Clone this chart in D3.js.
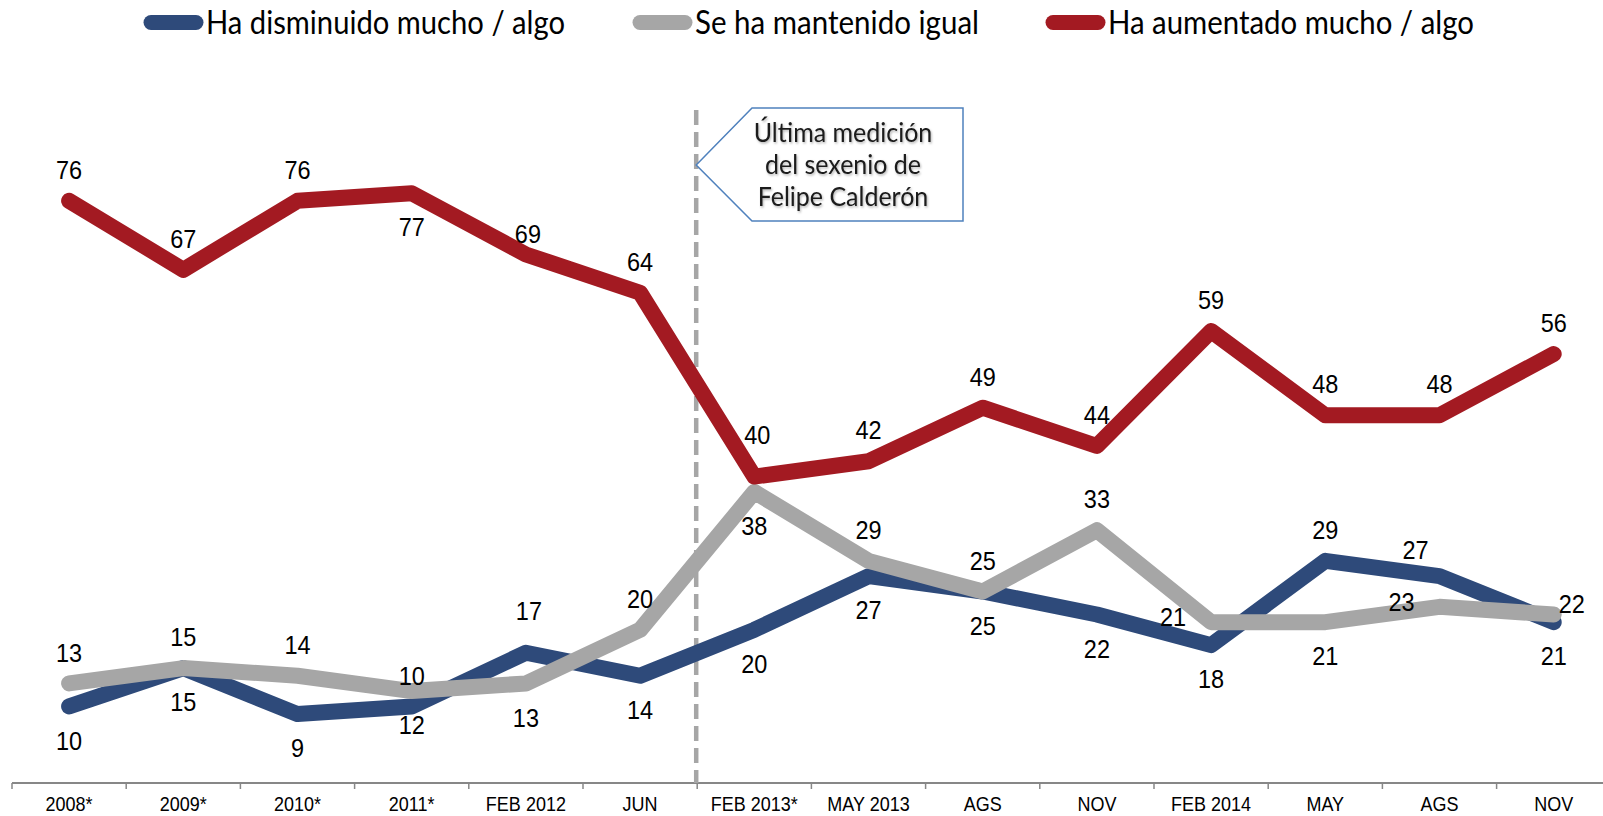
<!DOCTYPE html>
<html>
<head>
<meta charset="utf-8">
<script src="https://cdn.jsdelivr.net/npm/d3@7"></script>
<style>
  body { margin: 0; background: #ffffff; }
  svg { display: block; }
</style>
</head>
<body>
<div id="chart"></div>
<script>
(function () {

    var categories = ["2008*", "2009*", "2010*", "2011*", "FEB 2012", "JUN", "FEB 2013*",
        "MAY 2013", "AGS", "NOV", "FEB 2014", "MAY", "AGS", "NOV"];

    var disminuido = [10, 15, 9, 10, 17, 14, 20, 27, 25, 22, 18, 29, 27, 21];
    var mantenido = [13, 15, 14, 12, 13, 20, 38, 29, 25, 33, 21, 21, 23, 22];
    var aumentado = [76, 67, 76, 77, 69, 64, 40, 42, 49, 44, 59, 48, 48, 56];

    var seriesNames = ["Ha disminuido mucho / algo", "Se ha mantenido igual", "Ha aumentado mucho / algo"];

    // where each data label sits relative to its point
    var disminuidoLabelPos = ["b", "b", "b", "a", "aa", "b", "b", "b", "b", "b", "b", "a", "al", "b"];
    var mantenidoLabelPos = ["a", "a", "a", "b", "b", "a", "b", "a", "a", "a", "l", "b", "l", "r"];
    var aumentadoLabelPos = ["a", "a", "a", "b", "an", "a", "aa", "a", "a", "a", "a", "a", "a", "a"];

    var calloutLines = ["Última medición", "del sexenio de", "Felipe Calderón"];
    var markerIndex = 6; // dashed line before FEB 2013*

    var width = 1603, height = 816;
    var colors = ["#2e4a7a", "#a6a6a6", "#a31a22"];

    var series = [
        { name: seriesNames[0], values: disminuido, pos: disminuidoLabelPos, color: colors[0] },
        { name: seriesNames[1], values: mantenido, pos: mantenidoLabelPos, color: colors[1] },
        { name: seriesNames[2], values: aumentado, pos: aumentadoLabelPos, color: colors[2] }
    ];

    var offsets = {
        a: [0, -31],
        aa: [3, -42],
        an: [2, -21],
        b: [0, 34],
        l: [-38, -5],
        r: [18, -11],
        al: [-24, -26]
    };

    var svg = d3.select("#chart").append("svg")
        .attr("width", width)
        .attr("height", height);

    var x = d3.scaleBand()
        .domain(d3.range(categories.length))
        .range([12, 12 + 114.2 * categories.length])
        .padding(0);

    var y = d3.scaleLinear()
        .domain([0, 100])
        .range([783, 17]);

    function cx(i) { return x(i) + x.bandwidth() / 2; }

    // x axis
    var axisG = svg.append("g")
        .attr("transform", "translate(0," + y(0) + ")");

    axisG.call(d3.axisBottom(x)
        .tickSize(0)
        .tickSizeOuter(0)
        .tickPadding(12)
        .tickFormat(function (i) { return categories[i]; }));
    axisG.select(".domain").remove();
    axisG.selectAll(".tick text")
        .attr("font-family", "'Liberation Sans', Arial, sans-serif")
        .attr("font-size", "18px")
        .attr("fill", "#000")
        .attr("dy", "0.71em")
        .attr("transform", "scale(1,1.12)");

    axisG.append("line")
        .attr("x1", x.range()[0])
        .attr("x2", x.range()[1])
        .attr("y1", 0)
        .attr("y2", 0)
        .attr("stroke", "#878787")
        .attr("stroke-width", 2);

    axisG.selectAll("line.boundary")
        .data(d3.range(categories.length + 1))
        .enter()
        .append("line")
        .attr("class", "boundary")
        .attr("x1", function (i) { return x.range()[0] + i * x.step(); })
        .attr("x2", function (i) { return x.range()[0] + i * x.step(); })
        .attr("y1", 0)
        .attr("y2", 6)
        .attr("stroke", "#878787")
        .attr("stroke-width", 1.5);

    // dashed divider
    svg.append("line")
        .attr("x1", x(markerIndex) - 1)
        .attr("x2", x(markerIndex) - 1)
        .attr("y1", 110)
        .attr("y2", y(0))
        .attr("stroke", "#a6a6a6")
        .attr("stroke-width", 4.5)
        .attr("stroke-dasharray", "15,7");

    // lines
    var line = d3.line()
        .x(function (d, i) { return cx(i); })
        .y(function (d) { return y(d); });

    svg.selectAll("path.series")
        .data(series)
        .enter()
        .append("path")
        .attr("class", "series")
        .attr("d", function (d) { return line(d.values); })
        .attr("fill", "none")
        .attr("stroke", function (d) { return d.color; })
        .attr("stroke-width", 16)
        .attr("stroke-linejoin", "round")
        .attr("stroke-linecap", "round");

    // data labels
    series.forEach(function (s) {
        svg.append("g").selectAll("text")
            .data(s.values)
            .enter()
            .append("text")
            .attr("transform", function (d, i) {
                return "translate(" + (cx(i) + offsets[s.pos[i]][0]) + "," +
                    (y(d) + offsets[s.pos[i]][1]) + ") scale(1,1.08)";
            })
            .attr("dy", "0.36em")
            .attr("text-anchor", "middle")
            .attr("font-family", "'Liberation Sans', Arial, sans-serif")
            .attr("font-size", "23.5px")
            .attr("fill", "#000")
            .text(function (d) { return d; });
    });

    // callout
    var tipX = x(markerIndex) - 1, tipY = 165;
    var boxL = 752, boxR = 963, boxT = 108, boxB = 221;
    svg.append("path")
        .attr("d", "M" + tipX + "," + tipY + "L" + boxL + "," + boxT + "L" + boxR + "," + boxT +
            "L" + boxR + "," + boxB + "L" + boxL + "," + boxB + "Z")
        .attr("fill", "#fff")
        .attr("stroke", "#4f81bd")
        .attr("stroke-width", 1.5);

    var defs = svg.append("defs");
    var f = defs.append("filter").attr("id", "tshadow")
        .attr("x", "-10%").attr("y", "-20%").attr("width", "120%").attr("height", "140%");
    f.append("feDropShadow")
        .attr("dx", 1).attr("dy", 1.5).attr("stdDeviation", 1)
        .attr("flood-color", "#000").attr("flood-opacity", 0.3);

    svg.append("g")
        .attr("filter", "url(#tshadow)")
        .selectAll("text")
        .data(calloutLines)
        .enter()
        .append("text")
        .attr("transform", function (d, i) { return "translate(843," + (142 + i * 32) + ") scale(1,1.1)"; })
        .attr("text-anchor", "middle")
        .attr("font-family", "Lato, 'Open Sans', sans-serif")
        .attr("font-size", "25px")
        .attr("fill", "#1a1a1a")
        .text(function (d) { return d; });

    // legend
    var legendX = [144, 633, 1046];
    var legendTextW = [359, 284, 366];
    var legend = svg.append("g");
    series.forEach(function (s, i) {
        legend.append("line")
            .attr("x1", legendX[i] + 7)
            .attr("x2", legendX[i] + 52)
            .attr("y1", 22.5)
            .attr("y2", 22.5)
            .attr("stroke", s.color)
            .attr("stroke-width", 15)
            .attr("stroke-linecap", "round");
        var t = legend.append("text")
            .attr("transform", "translate(" + (legendX[i] + 62) + ",34) scale(1,1.12)")
            .attr("font-family", "Lato, 'Open Sans', sans-serif")
            .attr("font-size", "30px")
            .attr("fill", "#000")
            .text(s.name);
        var w = t.node().getComputedTextLength();
        t.attr("font-size", (30 * legendTextW[i] / w).toFixed(2) + "px");
    });

})();
</script>
</body>
</html>
